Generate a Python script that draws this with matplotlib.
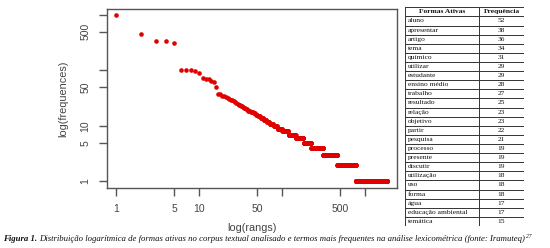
import numpy as np
import matplotlib
matplotlib.use('Agg')
import matplotlib.pyplot as plt

# Frequencies of the 16 most frequent forms
top_freqs = [980, 455, 344, 336, 317, 103, 100, 100, 96, 90, 74, 71, 69, 66, 62, 51]

# Remaining forms: frequency level and how many forms share it
level_freqs = [38, 37, 35, 34, 33, 32, 31, 30, 29, 28, 27, 26, 25, 24, 23, 22, 21, 20,
               19, 18, 17, 16, 15, 14, 13, 12, 11, 10, 9, 8, 7, 6, 5, 4, 3, 2, 1]
level_counts = [1, 1, 1, 1, 1, 1, 1, 1, 1, 1, 1, 1, 1, 2, 2, 1, 2, 2,
                3, 3, 3, 3, 4, 5, 5, 6, 8, 9, 12, 19, 27, 35, 42, 88, 150, 305, 1050]

# Table of most frequent terms
table_terms = ['aluno', 'apresentar', 'artigo', 'tema', 'químico', 'utilizar', 'estudante',
               'ensino médio', 'trabalho', 'resultado', 'relação', 'objetivo', 'partir',
               'pesquisa', 'processo', 'presente', 'discutir', 'utilização', 'uso', 'forma',
               'água', 'educação ambiental', 'temática']
table_freqs = [52, 38, 36, 34, 31, 29, 29, 28, 27, 25, 23, 23, 22, 21, 19, 19, 19, 18,
               18, 18, 17, 17, 15]

tick_vals = [1, 5, 10, 50, 100, 500, 1000]
tick_labels = ['1', '5', '10', '50', '', '500', '']

freqs = np.concatenate([top_freqs, np.repeat(level_freqs, level_counts)])
ranks = np.arange(1, len(freqs) + 1)

W, H = 550, 248
fig = plt.figure(figsize=(W / 100, H / 100), dpi=100)
fig.patch.set_facecolor('white')

txt_col = '#444444'
ax = fig.add_axes([107 / W, 1 - 187.7 / H, (397 - 107) / W, (187.7 - 9) / H])
ax.plot(ranks, freqs, 'o', color='#e00000', ms=3.3, mew=0)
ax.set_xscale('log')
ax.set_yscale('log')
ax.set_xlim(0.773, 2410)
ax.set_ylim(0.773, 1282)
ax.minorticks_off()
ax.set_xticks(tick_vals)
ax.set_xticklabels(tick_labels)
ax.set_yticks(tick_vals)
ax.set_yticklabels(tick_labels, rotation=90, va='center')
for s in ax.spines.values():
    s.set_color('#555555')
    s.set_linewidth(1.0)
ax.tick_params(colors='#555555', labelcolor=txt_col, length=6, width=1.0,
               labelsize=7.5, pad=6)
for lab in ax.get_xticklabels() + ax.get_yticklabels():
    lab.set_family('Liberation Sans')
ax.set_xlabel('log(rangs)', fontsize=7.8, color=txt_col, family='Liberation Sans', labelpad=6)
ax.set_ylabel('log(frequences)', fontsize=7.8, color=txt_col, family='Liberation Sans', labelpad=9)

# Table
x0, x1, xd = 405, 524, 479
y0, y1 = 7.3, 226
tab = fig.add_axes([x0 / W, 1 - y1 / H, (x1 - x0) / W, (y1 - y0) / H])
tab.set_xlim(0, x1 - x0)
nrows = len(table_terms) + 1
tab.set_ylim(nrows, 0)
tab.axis('off')
lw = 0.7
for i in range(nrows + 1):
    tab.plot([0, x1 - x0], [i, i], color='#333333', lw=lw, solid_capstyle='butt')
for xx in [0, xd - x0, x1 - x0]:
    tab.plot([xx, xx], [0, nrows], color='#333333', lw=lw)
tfont = dict(family='Liberation Serif', fontsize=5.4, color='#111111', va='center')
tab.text((xd - x0) / 2, 0.5, 'Formas Ativas', ha='center', weight='bold', **tfont)
tab.text((xd - x0 + x1 - x0) / 2, 0.5, 'Frequência', ha='center', weight='bold', **tfont)
for i, (t, f) in enumerate(zip(table_terms, table_freqs)):
    tab.text(2.5, i + 1.5, t, ha='left', **tfont)
    tab.text((xd - x0 + x1 - x0) / 2, i + 1.5, str(f), ha='center', **tfont)

# Caption
cap_y = 1 - 239 / H
cap_fs = 6.3
t1 = fig.text(3 / W, cap_y, 'Figura 1.', family='Liberation Serif', style='italic',
              weight='bold', fontsize=cap_fs, va='center', color='#111111')
fig.canvas.draw()
r = fig.canvas.get_renderer()
bb = t1.get_window_extent(r)
t2 = fig.text((bb.x1 + 2) / W, cap_y,
              'Distribuição logarítmica de formas ativas no corpus textual analisado e termos '
              'mais frequentes na análise lexicométrica (fonte: Iramuteq)',
              family='Liberation Serif', style='italic', fontsize=cap_fs, va='center', color='#111111')
bb2 = t2.get_window_extent(r)
fig.text((bb2.x1 + 0.5) / W, cap_y + 3 / H, '27', family='Liberation Serif', style='italic',
         fontsize=4.0, va='center', color='#111111')

fig.savefig('out.png', dpi=100)
